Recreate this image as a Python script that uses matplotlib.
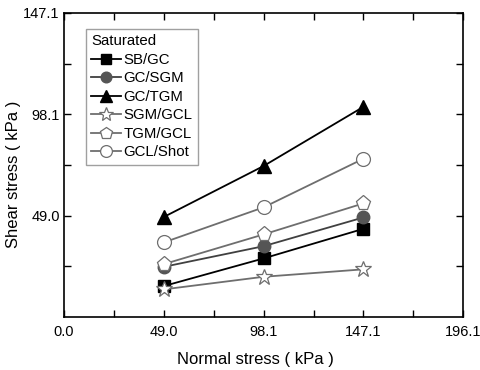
import matplotlib
matplotlib.use("Agg")
import matplotlib.pyplot as plt
from matplotlib.ticker import FixedLocator

plt.rcParams["font.family"] = ["Liberation Sans", "DejaVu Sans"]

normal_stress = [49.0, 98.1, 147.1]
sb_gc = [15.0, 28.4, 42.7]
gc_sgm = [24.3, 34.3, 48.2]
gc_tgm = [48.4, 73.1, 101.7]
sgm_gcl = [13.4, 19.5, 23.1]
tgm_gcl = [25.6, 40.0, 55.0]
gcl_shot = [36.1, 53.1, 76.6]

x_ticks = [0.0, 49.0, 98.1, 147.1, 196.1]
y_ticks = [49.0, 98.1, 147.1]

series = [
    ("SB/GC", sb_gc, dict(color="black", marker="s", ms=8, mfc="black", mec="black")),
    ("GC/SGM", gc_sgm, dict(color="#404040", marker="o", ms=9, mfc="#555555", mec="#555555")),
    ("GC/TGM", gc_tgm, dict(color="black", marker="^", ms=10, mfc="black", mec="black")),
    ("SGM/GCL", sgm_gcl, dict(color="#6e6e6e", marker="*", ms=12, mfc="white", mec="#6e6e6e", mew=0.9)),
    ("TGM/GCL", tgm_gcl, dict(color="#6e6e6e", marker="p", ms=11, mfc="white", mec="#6e6e6e", mew=0.9)),
    ("GCL/Shot", gcl_shot, dict(color="#6e6e6e", marker="o", ms=10, mfc="white", mec="#6e6e6e", mew=0.9)),
]

fig = plt.figure(figsize=(4.81, 3.70), dpi=100)
ax = fig.add_axes([0.133, 0.143, 0.830, 0.822])

for label, vals, style in series:
    ax.plot(normal_stress, vals, label=label, lw=1.3, **style)

ax.set_xlim(0, 196.1)
ax.set_ylim(0, 147.1)
ax.xaxis.set_major_locator(FixedLocator(x_ticks))
ax.yaxis.set_major_locator(FixedLocator(y_ticks))
ax.set_xticklabels([f"{v:.1f}" for v in x_ticks])
ax.set_yticklabels([f"{v:.1f}" for v in y_ticks])
ax.xaxis.set_minor_locator(FixedLocator([24.5, 73.55, 122.6, 171.6]))
ax.yaxis.set_minor_locator(FixedLocator([24.5, 73.55, 122.6]))
ax.tick_params(which="both", direction="in", top=True, right=True,
               labelsize=10.5, length=5, width=1)
ax.tick_params(axis="x", pad=6)
ax.tick_params(axis="y", pad=3)
for sp in ax.spines.values():
    sp.set_linewidth(1.2)

ax.set_xlabel("Normal stress ( kPa )", fontsize=12, labelpad=9, x=0.48)
ax.set_ylabel("Shear stress ( kPa )", fontsize=12, labelpad=2, y=0.47)

leg = ax.legend(title="Saturated", loc="upper left", bbox_to_anchor=(0.055, 0.947),
                fontsize=10.8, title_fontsize=10.8, frameon=True, fancybox=False,
                edgecolor="#888888", handlelength=2.0, handletextpad=0.15,
                labelspacing=0.3, borderpad=0.35, borderaxespad=0, markerscale=0.85)
leg._legend_box.align = "left"
leg.get_frame().set_linewidth(1.0)

fig.savefig("out.png", dpi=100)
